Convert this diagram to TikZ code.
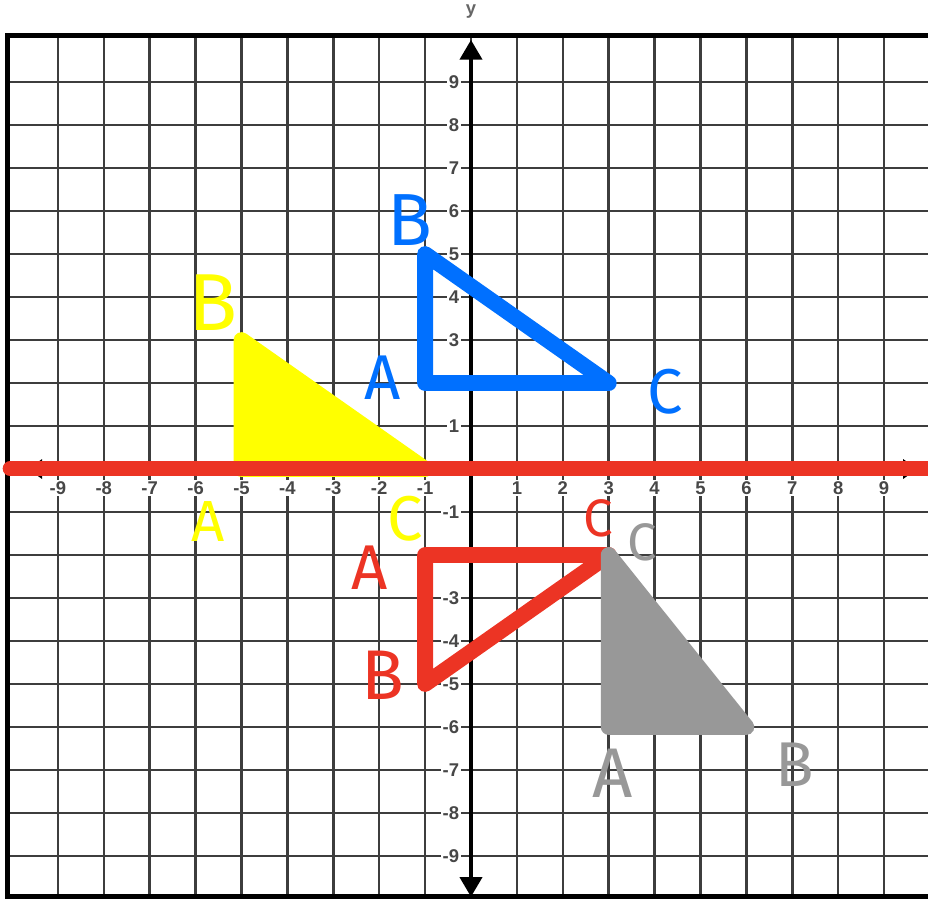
\documentclass[tikz,border=0pt]{standalone}
\usepackage{fontspec}
\setmainfont{Liberation Sans}
\newfontfamily\handfont{Fira Sans}
\usetikzlibrary{arrows.meta}
\definecolor{myblue}{RGB}{0,112,255}
\definecolor{myred}{RGB}{236,52,36}
\definecolor{myyellow}{RGB}{255,255,0}
\definecolor{mygray}{RGB}{152,152,152}
\tikzset{
  gridline/.style={line width=1.4pt, black!76},
  frameline/.style={line width=2.8pt, black},
  ticklab/.style={font=\bfseries\fontsize{10.5}{11}\selectfont, text=black!72, fill=white, inner sep=0.8pt},
  hand/.style={font=\handfont\fontsize{36}{36}\selectfont, inner sep=0pt},
  tri/.style={line width=9pt, line join=round, line cap=round},
  solidtri/.style={line width=9pt, line join=round, line cap=round},
}
\begin{document}
\begin{tikzpicture}[x=0.918cm, y=0.86cm]
\useasboundingbox (-10.261,-10.023) rectangle (9.956,10.907);
% grid
\foreach \k in {-9,...,9} {
  \draw[gridline] (\k,-9.97) -- (\k,10.08);
  \draw[gridline] (-10.09,\k) -- (10.3,\k);
}
% frame
\draw[frameline] (10.4,10.08) -- (-10.09,10.08) -- (-10.09,-9.95) -- (10.4,-9.95);
% axes
\coordinate (ytop) at (0,9.98);
\coordinate (ybot) at (0,-9.95);
\coordinate (xleft) at (-9.65,0);
\coordinate (xright) at (9.72,0);
\draw[line width=2.4pt, {Triangle[width=12.5pt,length=11.3pt]}-{Triangle[width=12.5pt,length=11.3pt]}] (ybot) -- (ytop);
\draw[line width=1.5pt, {Triangle[width=11pt,length=8pt]}-{Triangle[width=11pt,length=8pt]}] (xleft) -- (xright);
% tick labels
\foreach \k in {1,...,9} {
  \node[ticklab, anchor=east] (yl\k) at (-0.22,\k) {\k};
  \node[ticklab, anchor=east] (ylm\k) at (-0.22,-\k) {-\k};
  \node[ticklab] (xl\k) at (\k,-0.44) {\k};
  \node[ticklab] (xlm\k) at (-\k,-0.44) {-\k};
}
\node[font=\bfseries\fontsize{10.5}{10}\selectfont, text=black!60] (ylabel) at (0,10.63) {y};
% yellow triangle
\coordinate (YA) at (-5,0);
\coordinate (YB) at (-5,3);
\coordinate (YC) at (-1,0);
\draw[solidtri, myyellow, fill=myyellow] (YA) -- (YB) -- (YC) -- cycle;
% blue triangle
\coordinate (BA) at (-1,2);
\coordinate (BB) at (-1,5);
\coordinate (BC) at (3,2);
\draw[tri, myblue] (BA) -- (BB) -- (BC) -- cycle;
% red x axis line
\coordinate (rl) at (-10.04,0.01);
\coordinate (rr) at (10.4,0.01);
\draw[line width=8.5pt, myred, line cap=round] (rl) -- (rr);
% red triangle
\coordinate (RA) at (-1,-2);
\coordinate (RB) at (-1,-5);
\coordinate (RC) at (3,-2);
\draw[tri, myred] (RA) -- (RB) -- (RC) -- cycle;
% gray triangle
\coordinate (GC) at (3,-2);
\coordinate (GA) at (3,-6);
\coordinate (GB) at (6,-6);
\draw[solidtri, mygray, fill=mygray] (GC) -- (GA) -- (GB) -- cycle;
% handwritten labels
\node[hand, text=myyellow, font=\handfont\fontsize{46}{46}\selectfont] (yBl) at (-5.62,3.86) {B};
\node[hand, text=myyellow, font=\handfont\fontsize{33}{33}\selectfont] (yAl) at (-5.73,-1.22) {A};
\node[hand, text=myyellow] (yCl) at (-1.44,-1.15) {C};
\node[hand, text=myblue, font=\handfont\fontsize{42}{42}\selectfont] (bBl) at (-1.33,5.79) {B};
\node[hand, text=myblue] (bAl) at (-1.92,2.12) {A};
\node[hand, text=myblue] (bCl) at (4.23,1.79) {C};
\node[hand, text=myred, font=\handfont\fontsize{30}{30}\selectfont] (rCl) at (2.77,-1.14) {C};
\node[hand, text=myred] (rAl) at (-2.2,-2.3) {A};
\node[hand, text=myred, font=\handfont\fontsize{40}{40}\selectfont] (rBl) at (-1.92,-4.79) {B};
\node[hand, text=mygray, font=\handfont\fontsize{30}{30}\selectfont] (gCl) at (3.73,-1.70) {C};
\node[hand, text=mygray, font=\handfont\fontsize{40}{40}\selectfont] (gAl) at (3.09,-7.07) {A};
\node[hand, text=mygray] (gBl) at (7.06,-6.88) {B};
\end{tikzpicture}
\end{document}
